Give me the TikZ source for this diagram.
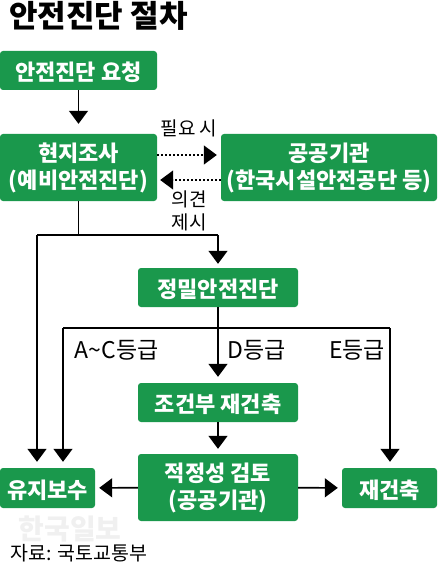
\documentclass[tikz,border=0pt]{standalone}
\usepackage{fontspec}
\setmainfont{Noto Sans CJK KR}
\usetikzlibrary{arrows.meta}
\definecolor{boxgreen}{RGB}{26,152,76}
\tikzset{
  stepbox/.style={
    fill=boxgreen,
    text=white,
    rounded corners=3pt,
    inner sep=0pt,
    align=center,
    execute at begin node={\rule{0pt}{22.4pt}},
    font=\fontsize{22}{27}\selectfont\bfseries
  },
  flow/.style={
    line width=1.6pt,
    -{Triangle[width=19pt,length=13pt]}
  },
  dots/.style={
    flow,
    dash pattern=on 2pt off 2pt
  },
  plainline/.style={
    line width=1.6pt
  },
  note/.style={
    inner sep=0pt,
    align=center,
    font=\fontsize{19}{23}\selectfont
  },
  grade/.style={
    note,
    font=\fontsize{23}{23}\selectfont
  }
}
\begin{document}
\begin{tikzpicture}[x=1pt,y=-1pt]
  \useasboundingbox (0,0) rectangle (437,564);
  \node[inner sep=0pt,font=\fontsize{31}{31}\selectfont\bfseries] (title) at (98.5,16) {안전진단 절차};
  \node[stepbox,minimum width=157pt,minimum height=39pt] (request) at (78.5,70.5) {안전진단 요청};
  \node[stepbox,minimum width=157pt,minimum height=67pt] (survey) at (78.5,167.5) {현지조사\\(예비안전진단)};
  \node[stepbox,minimum width=216pt,minimum height=67pt] (public) at (329,167.5) {공공기관\\(한국시설안전공단 등)};
  \node[stepbox,minimum width=160pt,minimum height=39pt] (precise) at (218,287.5) {정밀안전진단};
  \node[stepbox,minimum width=160pt,minimum height=39pt] (cond) at (218,402.5) {조건부 재건축};
  \node[stepbox,minimum width=160pt,minimum height=67pt] (review) at (218,487.5) {적정성 검토\\(공공기관)};
  \node[stepbox,minimum width=95pt,minimum height=40pt] (maintain) at (47.5,488) {유지보수};
  \node[stepbox,minimum width=95pt,minimum height=40pt] (rebuild) at (389.5,488) {재건축};
  \node[note] (need) at (189,128) {필요 시};
  \node[note] (opinion) at (189,211) {의견\\제시};
  \node[grade] (gradeac) at (116.5,350) {A\textasciitilde C등급};
  \node[grade] (graded) at (256.5,350) {D등급};
  \node[grade] (gradee) at (357,350) {E등급};
  \node[note,text=black!6,font=\fontsize{28}{28}\selectfont\bfseries] (mark) at (70,529) {한국일보};
  \node[note,anchor=west,font=\fontsize{19.5}{23}\selectfont] (source) at (10,553) {자료: 국토교통부};
  % branch points
  \coordinate (surveyfork) at (78.5,235);
  \coordinate (forkleft) at (37,235);
  \coordinate (forkright) at (218,235);
  \coordinate (gradefork) at (218,328);
  \coordinate (gradeleft) at (63,328);
  \coordinate (graderight) at (390,328);
  \draw[flow,shorten >=10pt] (request) -- (survey);
  \draw[dots,shorten >=4pt] ([yshift=12.5pt]survey.east) -- ([yshift=12.5pt]public.west);
  \draw[dots,shorten >=3pt] ([yshift=-12.5pt]public.west) -- ([yshift=-12.5pt]survey.east);
  \draw[plainline] (survey) -- (surveyfork);
  \draw[flow,shorten >=4pt] (forkright) -- (precise);
  \draw[plainline] (forkleft) -- (forkright);
  \draw[flow,shorten >=6pt] (forkleft) -- (forkleft |- maintain.north);
  \draw[flow,shorten >=6pt] (precise) -- (cond);
  \draw[plainline] (gradeleft) -- (graderight);
  \draw[flow,shorten >=6pt] (gradeleft) -- (gradeleft |- maintain.north);
  \draw[flow,shorten >=6pt] (graderight) -- (graderight |- rebuild.north);
  \draw[flow,shorten >=5pt] (cond) -- (review);
  \draw[flow,shorten >=4pt] (review) -- (maintain);
  \draw[flow,shorten >=4pt] (review) -- (rebuild);
\end{tikzpicture}
\end{document}
